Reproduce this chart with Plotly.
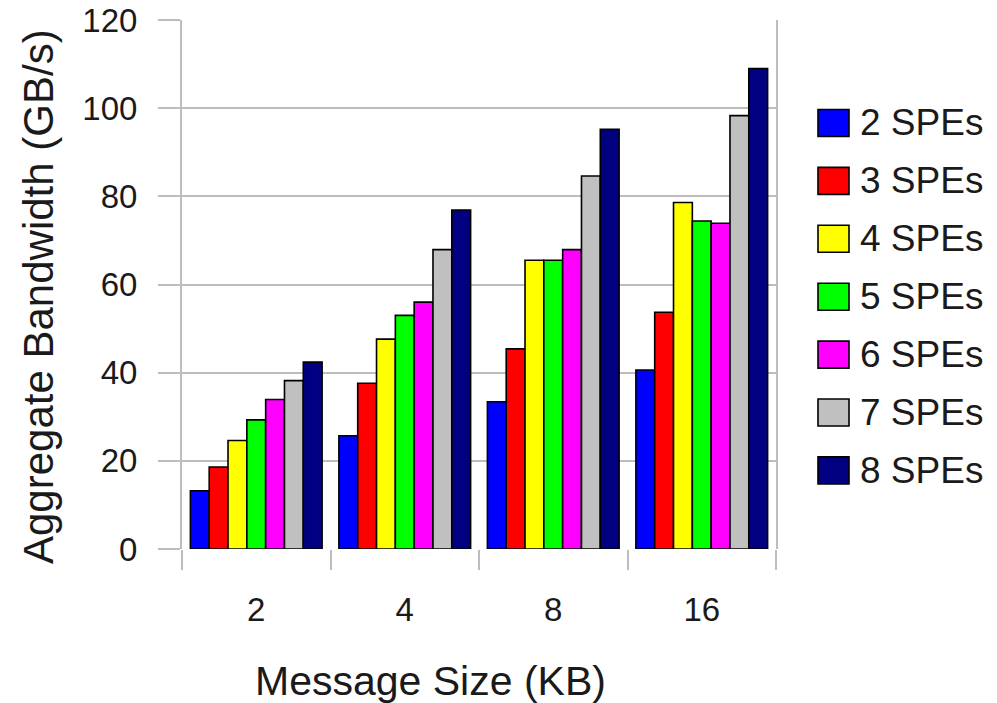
import plotly.graph_objects as go

categories = ["2", "4", "8", "16"]
series_names = ["2 SPEs", "3 SPEs", "4 SPEs", "5 SPEs", "6 SPEs", "7 SPEs", "8 SPEs"]
spe2 = [13.2, 25.7, 33.4, 40.6]
spe3 = [18.6, 37.6, 45.4, 53.7]
spe4 = [24.6, 47.6, 65.5, 78.6]
spe5 = [29.3, 53.0, 65.5, 74.4]
spe6 = [33.9, 56.0, 67.9, 73.9]
spe7 = [38.2, 67.9, 84.6, 98.3]
spe8 = [42.4, 76.9, 95.2, 109.0]
series_values = [spe2, spe3, spe4, spe5, spe6, spe7, spe8]
colors = ["#0000ff", "#ff0000", "#ffff00", "#00ff00", "#ff00ff", "#c0c0c0", "#000080"]
y_ticks = [0, 20, 40, 60, 80, 100, 120]

FONT = "Liberation Sans, Arial, sans-serif"
TXT = "#1a1a1a"
GRID = "#bdbdbd"

fig = go.Figure()
for name, vals, col in zip(series_names, series_values, colors):
    fig.add_trace(go.Bar(
        x=categories, y=vals, name=name,
        marker=dict(color=col, line=dict(color="#000000", width=1.6)),
        showlegend=False,
    ))

W, H = 997, 703
L, R, T, B = 182, 221, 20, 154
pw, ph = W - L - R, H - T - B

def px(x):
    return (x - L) / pw

def py(y):
    return (H - B - y) / ph

shapes = []
annotations = []
for i, (name, col) in enumerate(zip(series_names, colors)):
    cy = 123 + i * 57.9
    shapes.append(dict(type="rect", xref="paper", yref="paper",
                       x0=px(818), x1=px(849), y0=py(cy - 13.5), y1=py(cy + 13.5),
                       fillcolor=col, line=dict(color="#000000", width=1.6)))
    annotations.append(dict(xref="paper", yref="paper", x=px(858), y=py(cy),
                            xanchor="left", yanchor="middle", showarrow=False,
                            text=name, font=dict(family=FONT, size=37, color=TXT)))

annotations.append(dict(xref="paper", yref="paper", x=px(430), y=py(681),
                        xanchor="center", yanchor="middle", showarrow=False,
                        text="Message Size (KB)", font=dict(family=FONT, size=41, color=TXT)))
annotations.append(dict(xref="paper", yref="paper", x=px(38), y=py(297),
                        xanchor="center", yanchor="middle", showarrow=False, textangle=-90,
                        text="Aggregate Bandwidth (GB/s)", font=dict(family=FONT, size=42, color=TXT)))

fig.update_layout(
    width=W, height=H,
    margin=dict(l=L, r=R, t=T, b=B, pad=0, autoexpand=False),
    paper_bgcolor="white", plot_bgcolor="white",
    barmode="group", bargap=0.113, bargroupgap=0,
    font=dict(family=FONT, size=33, color=TXT),
    shapes=shapes, annotations=annotations,
    showlegend=False,
)
fig.update_xaxes(
    type="category", showgrid=False, showline=False, zeroline=False, automargin=False,
    ticks="outside", tickson="boundaries", ticklen=20, tickwidth=2, tickcolor=GRID,
    ticklabelstandoff=38,
    tickfont=dict(family=FONT, size=33, color=TXT),
)
fig.update_yaxes(
    range=[0, 120], tickvals=y_ticks, ticktext=[str(v) for v in y_ticks],
    showgrid=True, gridcolor=GRID, gridwidth=2, automargin=False,
    showline=True, linecolor=GRID, linewidth=2, mirror=True,
    zeroline=False,
    ticks="outside", ticklen=22, tickwidth=2, tickcolor=GRID,
    ticklabelstandoff=14,
    tickfont=dict(family=FONT, size=33, color=TXT),
)

fig.write_html("out.html", config={"displayModeBar": False},
               post_script="document.body.style.margin='0';document.body.style.overflow='hidden';")
